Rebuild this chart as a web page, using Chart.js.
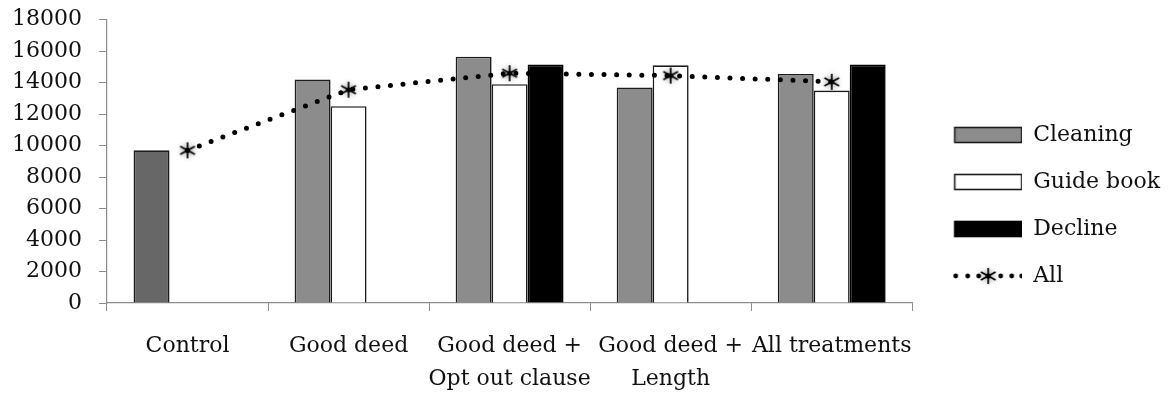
<!DOCTYPE html>
<html>
<head>
<meta charset="utf-8">
<script src="https://cdn.jsdelivr.net/npm/chart.js@4.4.1/dist/chart.umd.min.js"></script>
<style>
  html, body { margin: 0; padding: 0; background: #fff; }
  #wrap { width: 1170px; height: 396px; position: relative; }
</style>
</head>
<body>
<div id="wrap"><canvas id="chart"></canvas></div>
<script>
// Treatment groups on the x axis
const categories = ['Control', 'Good deed', ['Good deed +', 'Opt out clause'], ['Good deed +', 'Length'], 'All treatments'];

// Values per request type
const cleaning  = [9700, 14200, 15650, 13700, 14550];
const guideBook = [null, 12500, 13900, 15100, 13500];
const decline   = [null, null, 15150, null, 15150];
const allTypes  = [9700, 13550, 14600, 14450, 14050];

// Value axis ticks
const yTicks = [0, 2000, 4000, 6000, 8000, 10000, 12000, 14000, 16000, 18000];

const FONT = 'DejaVu Serif';
const AXIS_GREY = '#8c8c8c';
const BAR_EDGE = '#1c1c1c';

// Six-armed asterisk marker with a soft halo
function makeAsterisk(size) {
  const c = document.createElement('canvas');
  c.width = size; c.height = size;
  const g = c.getContext('2d');
  const r = 8.5;
  g.translate(size / 2, size / 2);
  g.shadowColor = 'rgba(0,0,0,0.45)';
  g.shadowBlur = 5;
  g.strokeStyle = '#000';
  g.lineWidth = 1.7;
  g.beginPath();
  for (let k = 0; k < 3; k++) {
    const a = Math.PI / 2 + k * Math.PI / 3;
    g.moveTo(-r * Math.cos(a), -r * Math.sin(a) * 0.95);
    g.lineTo(r * Math.cos(a), r * Math.sin(a) * 0.95);
  }
  g.stroke();
  g.shadowBlur = 0;
  g.fillStyle = '#000';
  g.beginPath(); g.arc(0, 0, 2.6, 0, Math.PI * 2); g.fill();
  return c;
}
const asterisk = makeAsterisk(28);

// Legend swatches: 68x16 boxes drawn after a 17px gap
const SW_W = 85, SW_H = 22, GAP = 17;
function makeBoxSwatch(fill, edge) {
  const c = document.createElement('canvas');
  c.width = SW_W; c.height = SW_H;
  const g = c.getContext('2d');
  g.fillStyle = fill;
  g.fillRect(GAP + 0.5, 3.5, 67, 15);
  g.strokeStyle = edge;
  g.lineWidth = 1.6;
  g.strokeRect(GAP + 0.5, 3.5, 67, 15);
  return c;
}
function makeLineSwatch() {
  const c = document.createElement('canvas');
  c.width = SW_W; c.height = SW_H;
  const g = c.getContext('2d');
  g.fillStyle = '#000';
  [0, 12, 23, 45, 56, 66].forEach(dx => {
    g.beginPath(); g.arc(GAP + 1.5 + dx, SW_H / 2, 2.4, 0, Math.PI * 2); g.fill();
  });
  g.drawImage(asterisk, GAP + 34 - 14, SW_H / 2 - 14);
  return c;
}
const swatches = [
  makeBoxSwatch('#8c8c8c', BAR_EDGE),
  makeBoxSwatch('#ffffff', BAR_EDGE),
  makeBoxSwatch('#000000', '#000000'),
  makeLineSwatch()
];

const data = {
  labels: categories,
  datasets: [
    { type: 'bar', label: 'Cleaning', data: cleaning,
      backgroundColor: ['#676767', '#8c8c8c', '#8c8c8c', '#8c8c8c', '#8c8c8c'],
      borderColor: BAR_EDGE, borderWidth: 1.6, order: 1 },
    { type: 'bar', label: 'Guide book', data: guideBook,
      backgroundColor: '#ffffff', borderColor: BAR_EDGE, borderWidth: 1.6, order: 1 },
    { type: 'bar', label: 'Decline', data: decline,
      backgroundColor: '#000000', borderColor: '#000000', borderWidth: 1.6, order: 1 },
    { type: 'line', label: 'All', data: allTypes,
      borderColor: '#000', borderWidth: 5, borderDash: [0, 12.6], borderCapStyle: 'round',
      pointStyle: asterisk, pointRadius: 9, tension: 0, fill: false, order: 0 }
  ]
};

new Chart(document.getElementById('chart'), {
  type: 'bar',
  data,
  options: {
    responsive: true,
    maintainAspectRatio: false,
    animation: false,
    devicePixelRatio: 1,
    layout: { padding: { left: 12, right: 0, top: 6, bottom: 0 } },
    datasets: { bar: { categoryPercentage: 0.67, barPercentage: 1.0 } },
    scales: {
      x: {
        grid: { display: true, drawOnChartArea: false, tickLength: 8, color: AXIS_GREY, offset: true },
        border: { display: true, color: AXIS_GREY, width: 1.2 },
        ticks: { color: '#111', padding: 19, maxRotation: 0, autoSkip: false,
                 font: { family: FONT, size: 22, lineHeight: 1.5 } },
        // tick padding only sits between tick marks and labels
        afterFit: s => { s.height -= s.options.ticks.padding; }
      },
      y: {
        min: yTicks[0], max: yTicks[yTicks.length - 1],
        afterBuildTicks: axis => { axis.ticks = yTicks.map(v => ({ value: v })); },
        grid: { display: true, drawOnChartArea: false, tickLength: 8, color: AXIS_GREY },
        border: { display: true, color: AXIS_GREY, width: 1.2 },
        ticks: { color: '#111', padding: 17, autoSkip: false, callback: v => String(v),
                 font: { family: FONT, size: 22, lineHeight: 1.2 } },
        afterFit: s => {
          const p = s.options.ticks.padding;
          s.width -= p;
          s.paddingTop = s.paddingTop - p + 6.5;
          s.paddingBottom -= p;
        }
      }
    },
    plugins: {
      tooltip: { enabled: false },
      legend: {
        position: 'right',
        title: { display: true, text: '', padding: 0, font: { size: 9, lineHeight: 1 } },
        labels: {
          usePointStyle: true, pointStyleWidth: SW_W, boxHeight: 20, padding: 25,
          color: '#111', font: { family: FONT, size: 22 },
          generateLabels: chart => chart.data.datasets.map((ds, i) => ({
            text: ds.label, pointStyle: swatches[i], fillStyle: 'transparent',
            strokeStyle: 'transparent', lineWidth: 0, hidden: false, datasetIndex: i, fontColor: '#111'
          }))
        }
      }
    }
  }
});
</script>
</body>
</html>
